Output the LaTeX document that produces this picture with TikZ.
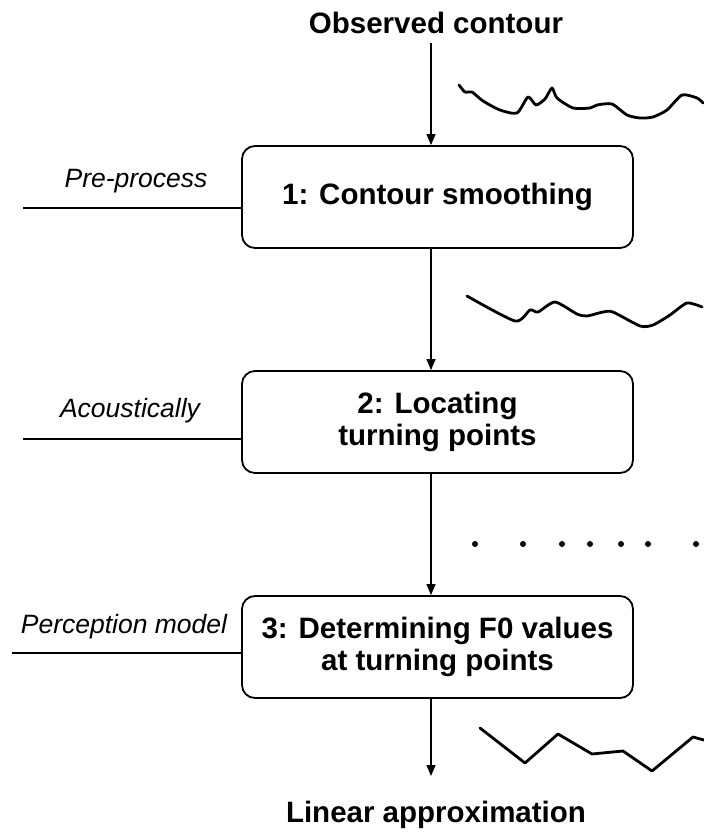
\documentclass[tikz,border=0pt]{standalone}
\usepackage{fontspec}
\setmainfont{Liberation Sans}
\usetikzlibrary{arrows.meta}
\begin{document}
\begin{tikzpicture}[x=1pt,y=-1pt,
  stepbox/.style={draw, line width=1.8pt, rounded corners=13pt, minimum width=391pt, minimum height=102pt, align=center, font=\bfseries\fontsize{29.5}{32}\selectfont, inner sep=0pt},
  ttl/.style={font=\bfseries\fontsize{29.5}{32}\selectfont, inner sep=0pt, anchor=base},
  lbl/.style={font=\itshape\fontsize{26.5}{30}\selectfont, inner sep=0pt, anchor=base},
  flow/.style={line width=1.2pt, -{Triangle[length=11pt,width=9pt]}},
  side/.style={line width=1.2pt},
  curve/.style={line width=2.8pt, line join=round, line cap=round}]
\useasboundingbox (0,0) rectangle (704,839);
\node[ttl] (top) at (436,33) {Observed contour};
\coordinate (col) at (431,0);
\node[stepbox] (b1) at (437.5,197) {1: Contour smoothing};
\node[stepbox] (b2) at (437.5,422) {2: Locating\\turning points};
\node[stepbox] (b3) at (437.5,647) {3: Determining F0 values\\at turning points};
\node[ttl] (bot) at (436,822) {Linear approximation};
\draw[flow] ([yshift=-10pt]top.base -| col) -- (b1.north -| col);
\draw[flow] (b1.south -| col) -- (b2.north -| col);
\draw[flow] (b2.south -| col) -- (b3.north -| col);
\coordinate (endarrow) at (431,776);
\draw[flow] (b3.south -| col) -- (endarrow);
\coordinate (s1) at (23,208); \draw[side] (s1) -- (s1 -| b1.west);
\coordinate (s2) at (23,439); \draw[side] (s2) -- (s2 -| b2.west);
\coordinate (s3) at (12,653); \draw[side] (s3) -- (s3 -| b3.west);
\node[lbl] (l1) at (136,187) {Pre-process};
\node[lbl] (l2) at (130,417) {Acoustically};
\node[lbl] (l3) at (124,633) {Perception model};
\foreach \x in {475,523,562,590,621,648,696} \fill (\x,544) circle (3pt);
\draw[curve] plot[smooth,tension=0.4] coordinates {(459,85) (465,92) (472,92) (483,101) (500,110) (517,113) (528,97) (536,105) (545,99) (552,88) (557,98) (573,108) (590,108) (597,105) (612,104) (627,115) (640,118) (653,117) (667,110) (682,95) (697,98) (703,103)};
\draw[curve] plot[smooth,tension=0.4] coordinates {(467,296) (515,321) (530,310) (538,312) (555,302) (577,314) (587,316) (603,312) (613,312) (640,326) (653,325) (670,315) (687,303) (702,307)};
\draw[curve] (480,728) -- (525,763) -- (558,734) -- (592,754) -- (623,751) -- (652,771) -- (693,737) -- (704,740);
\end{tikzpicture}
\end{document}
